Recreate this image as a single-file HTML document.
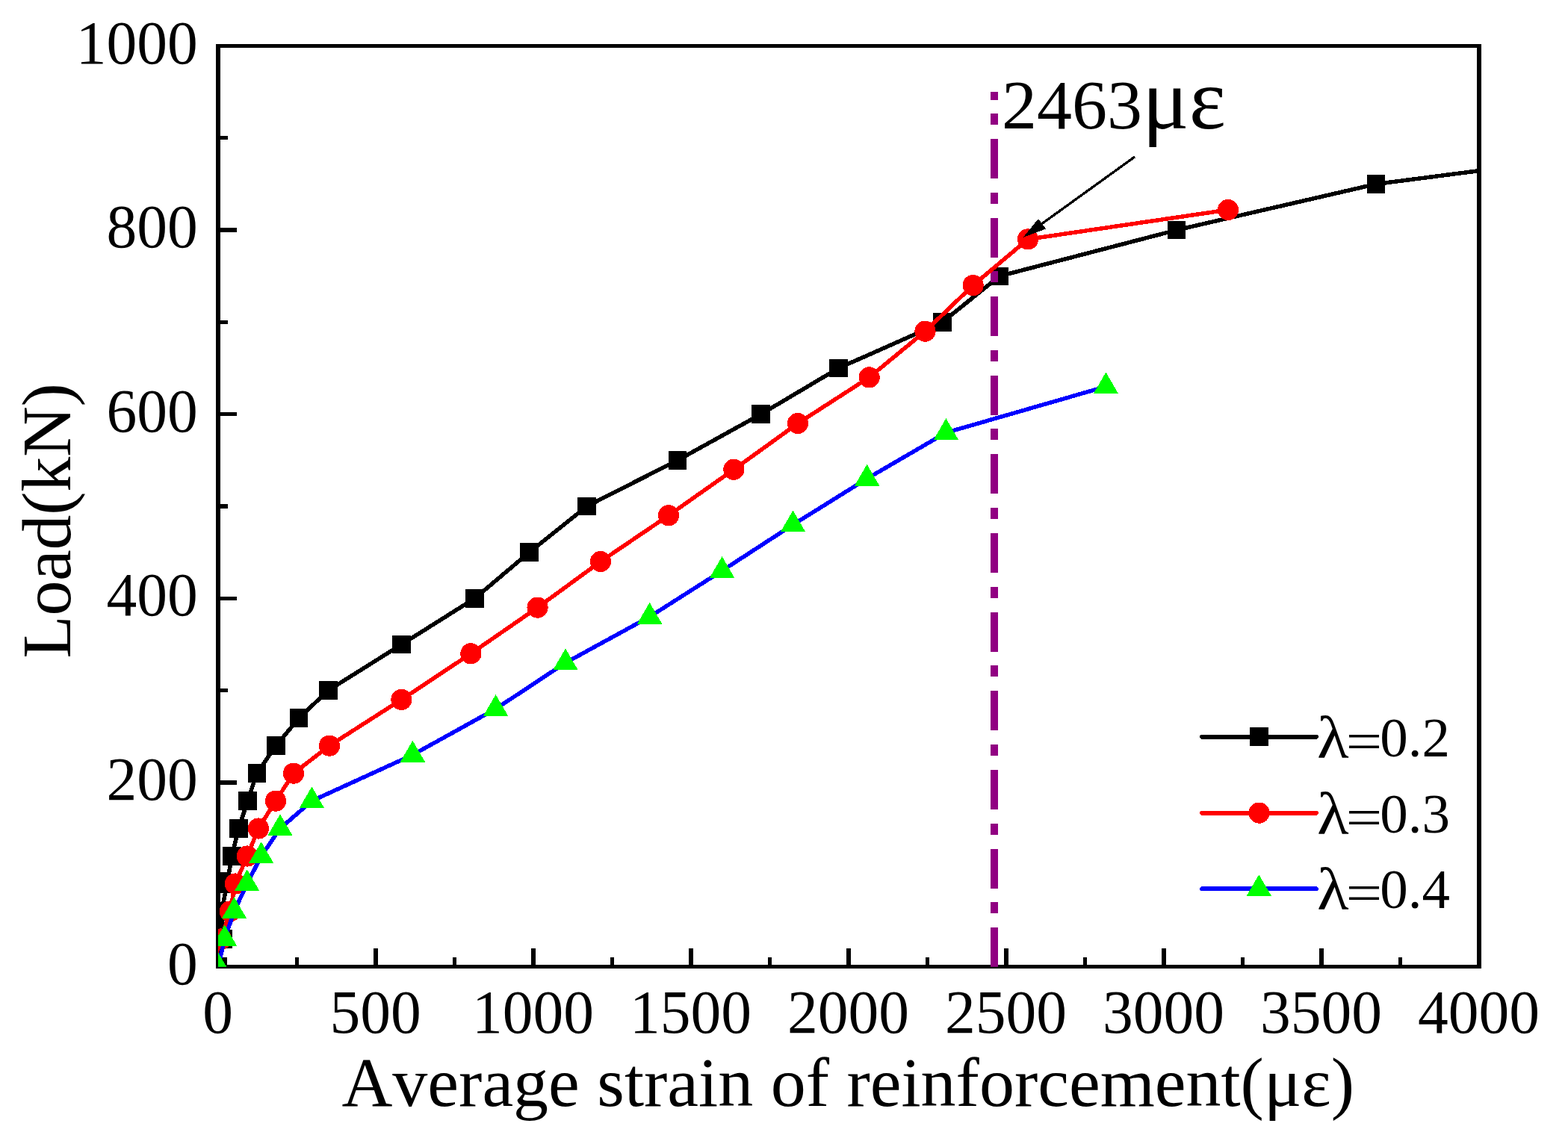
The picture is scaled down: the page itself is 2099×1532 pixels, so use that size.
<!DOCTYPE html>
<html lang="en"><head><meta charset="utf-8"><title>Load vs average strain of reinforcement</title>
<style>
html,body{margin:0;padding:0;background:#fff;}
body{width:2099px;height:1532px;overflow:hidden;}
svg{display:block;}
text{font-family:"Liberation Serif","DejaVu Serif",serif;fill:#000;font-kerning:none;font-variant-ligatures:none;font-feature-settings:"kern" 0,"liga" 0;}
.tk{font-size:81.5px;}
.ti{font-size:94px;}
.lg{font-size:75px;}
</style></head><body>
<svg width="2099" height="1532" viewBox="0 0 2099 1532">
<rect x="0" y="0" width="2099" height="1532" fill="#ffffff"/>
<defs><clipPath id="plot"><rect x="292" y="61.5" width="1688" height="1233.2"/></clipPath></defs>
<g fill="#000" shape-rendering="crispEdges">
<rect x="289" y="59" width="6" height="1238"/>
<rect x="1977" y="59" width="6" height="1238"/>
<rect x="289" y="59" width="1694" height="5"/>
<rect x="289" y="1292" width="1694" height="5"/>
<rect x="292" y="1168" width="13" height="6"/>
<rect x="292" y="1045" width="25" height="6"/>
<rect x="292" y="922" width="13" height="5"/>
<rect x="292" y="799" width="25" height="5"/>
<rect x="292" y="675" width="13" height="6"/>
<rect x="292" y="552" width="25" height="5"/>
<rect x="292" y="429" width="13" height="5"/>
<rect x="292" y="305" width="25" height="6"/>
<rect x="292" y="182" width="13" height="5"/>
<rect x="395" y="1282" width="5" height="13"/>
<rect x="500" y="1270" width="6" height="25"/>
<rect x="606" y="1282" width="5" height="13"/>
<rect x="711" y="1270" width="6" height="25"/>
<rect x="817" y="1282" width="5" height="13"/>
<rect x="922" y="1270" width="6" height="25"/>
<rect x="1028" y="1282" width="5" height="13"/>
<rect x="1133" y="1270" width="6" height="25"/>
<rect x="1239" y="1282" width="5" height="13"/>
<rect x="1344" y="1270" width="6" height="25"/>
<rect x="1450" y="1282" width="5" height="13"/>
<rect x="1555" y="1270" width="6" height="25"/>
<rect x="1661" y="1282" width="5" height="13"/>
<rect x="1766" y="1270" width="6" height="25"/>
<rect x="1872" y="1282" width="5" height="13"/>
</g>
<g clip-path="url(#plot)" shape-rendering="crispEdges">
<polyline fill="none" stroke="#000" stroke-width="5.5" stroke-linejoin="round" points="292.0,1294.5 298.6,1257.5 296.6,1220.5 304.0,1183.5 310.4,1146.5 319.4,1109.5 331.6,1072.6 343.8,1035.6 369.4,998.6 400.2,961.6 439.4,924.6 537.6,863.0 635.6,801.3 708.6,739.6 785.6,678.0 907.0,616.4 1018.6,554.7 1122.6,493.0 1261.5,431.4 1338.0,369.8 1575.0,308.1 1842.0,246.5 2319.0,184.8"/>
<g fill="#000">
<rect x="279.75" y="1282.25" width="24.5" height="24.5"/>
<rect x="286.35" y="1245.26" width="24.5" height="24.5"/>
<rect x="284.35" y="1208.27" width="24.5" height="24.5"/>
<rect x="291.75" y="1171.28" width="24.5" height="24.5"/>
<rect x="298.15" y="1134.29" width="24.5" height="24.5"/>
<rect x="307.15" y="1097.30" width="24.5" height="24.5"/>
<rect x="319.35" y="1060.31" width="24.5" height="24.5"/>
<rect x="331.55" y="1023.32" width="24.5" height="24.5"/>
<rect x="357.15" y="986.33" width="24.5" height="24.5"/>
<rect x="387.95" y="949.34" width="24.5" height="24.5"/>
<rect x="427.15" y="912.35" width="24.5" height="24.5"/>
<rect x="525.35" y="850.70" width="24.5" height="24.5"/>
<rect x="623.35" y="789.05" width="24.5" height="24.5"/>
<rect x="696.35" y="727.40" width="24.5" height="24.5"/>
<rect x="773.35" y="665.75" width="24.5" height="24.5"/>
<rect x="894.75" y="604.10" width="24.5" height="24.5"/>
<rect x="1006.35" y="542.45" width="24.5" height="24.5"/>
<rect x="1110.35" y="480.80" width="24.5" height="24.5"/>
<rect x="1249.25" y="419.15" width="24.5" height="24.5"/>
<rect x="1325.75" y="357.50" width="24.5" height="24.5"/>
<rect x="1562.75" y="295.85" width="24.5" height="24.5"/>
<rect x="1829.75" y="234.20" width="24.5" height="24.5"/>
</g>
<line x1="1331" y1="1295.1" x2="1331" y2="123.4" stroke="#910082" stroke-width="10" stroke-dasharray="53 19 15 18.6"/>
<polyline fill="none" stroke="#ff0000" stroke-width="5.5" stroke-linejoin="round" points="283.0,1294.5 296.0,1257.5 307.9,1220.5 315.0,1183.5 331.0,1146.5 346.0,1109.5 369.0,1072.6 393.0,1035.6 441.0,998.6 537.4,936.9 630.4,875.3 719.6,813.6 804.0,752.0 895.0,690.3 982.4,628.7 1068.0,567.0 1163.6,505.4 1238.5,443.7 1302.6,382.1 1376.0,320.4 1644.0,281.0"/>
<g fill="#ff0000">
<circle cx="296.0" cy="1257.5" r="14.1"/>
<circle cx="307.9" cy="1220.5" r="14.1"/>
<circle cx="315.0" cy="1183.5" r="14.1"/>
<circle cx="331.0" cy="1146.5" r="14.1"/>
<circle cx="346.0" cy="1109.5" r="14.1"/>
<circle cx="369.0" cy="1072.6" r="14.1"/>
<circle cx="393.0" cy="1035.6" r="14.1"/>
<circle cx="441.0" cy="998.6" r="14.1"/>
<circle cx="537.4" cy="936.9" r="14.1"/>
<circle cx="630.4" cy="875.3" r="14.1"/>
<circle cx="719.6" cy="813.6" r="14.1"/>
<circle cx="804.0" cy="752.0" r="14.1"/>
<circle cx="895.0" cy="690.3" r="14.1"/>
<circle cx="982.4" cy="628.7" r="14.1"/>
<circle cx="1068.0" cy="567.0" r="14.1"/>
<circle cx="1163.6" cy="505.4" r="14.1"/>
<circle cx="1238.5" cy="443.7" r="14.1"/>
<circle cx="1302.6" cy="382.1" r="14.1"/>
<circle cx="1376.0" cy="320.4" r="14.1"/>
<circle cx="1644.0" cy="281.0" r="14.1"/>
</g>
<polyline fill="none" stroke="#0000ff" stroke-width="5.5" stroke-linejoin="round" points="292.0,1294.5 300.7,1257.5 313.5,1220.5 330.7,1183.5 349.7,1146.5 375.0,1109.5 417.4,1072.6 552.4,1010.9 663.6,949.3 757.0,887.6 869.6,826.0 966.6,764.3 1061.5,702.7 1160.6,641.0 1266.4,579.4 1480.4,517.7"/>
<g fill="#00ff00">
<polygon points="292.0,1275.3 308.7,1304.1 275.3,1304.1"/>
<polygon points="300.7,1238.3 317.4,1267.1 284.0,1267.1"/>
<polygon points="313.5,1201.3 330.2,1230.1 296.8,1230.1"/>
<polygon points="330.7,1164.3 347.4,1193.1 314.0,1193.1"/>
<polygon points="349.7,1127.3 366.4,1156.1 333.0,1156.1"/>
<polygon points="375.0,1090.3 391.7,1119.1 358.3,1119.1"/>
<polygon points="417.4,1053.4 434.1,1082.2 400.7,1082.2"/>
<polygon points="552.4,991.7 569.1,1020.5 535.7,1020.5"/>
<polygon points="663.6,930.1 680.3,958.9 646.9,958.9"/>
<polygon points="757.0,868.4 773.7,897.2 740.3,897.2"/>
<polygon points="869.6,806.8 886.3,835.6 852.9,835.6"/>
<polygon points="966.6,745.1 983.3,773.9 949.9,773.9"/>
<polygon points="1061.5,683.5 1078.2,712.3 1044.8,712.3"/>
<polygon points="1160.6,621.8 1177.3,650.6 1143.9,650.6"/>
<polygon points="1266.4,560.2 1283.1,589.0 1249.7,589.0"/>
<polygon points="1480.4,498.5 1497.1,527.3 1463.7,527.3"/>
</g>
</g>
<g shape-rendering="crispEdges">
<line x1="1519" y1="210" x2="1388" y2="304.5" stroke="#000" stroke-width="3.3"/>
<polygon points="1369.5,318 1390,293 1400,306.5" fill="#000"/>
</g>
<g class="tk" text-anchor="end">
<text x="264.8" y="1317.5">0</text>
<text x="264.8" y="1070.9">200</text>
<text x="264.8" y="824.3">400</text>
<text x="264.8" y="577.7">600</text>
<text x="264.8" y="331.1">800</text>
<text x="264.8" y="84.5">1000</text>
</g>
<g class="tk" text-anchor="middle">
<text x="291.6" y="1383.1">0</text>
<text x="502.6" y="1383.1">500</text>
<text x="713.6" y="1383.1">1000</text>
<text x="924.6" y="1383.1">1500</text>
<text x="1135.6" y="1383.1">2000</text>
<text x="1346.6" y="1383.1">2500</text>
<text x="1557.6" y="1383.1">3000</text>
<text x="1768.6" y="1383.1">3500</text>
<text x="1979.6" y="1383.1">4000</text>
</g>
<text class="ti" x="1135.3" y="1481.2" text-anchor="middle">Average strain of reinforcement(με)</text>
<text class="ti" transform="translate(93.9 697.6) rotate(-90)" text-anchor="middle" style="letter-spacing:-0.3px">Load(kN)</text>
<text class="ti" x="1341" y="172">2463<tspan font-size="117">με</tspan></text>
<g shape-rendering="crispEdges">
<line x1="1609" y1="986.6" x2="1762" y2="986.6" stroke="#000" stroke-width="6" stroke-linecap="round"/>
<rect x="1673" y="974" width="25" height="25" fill="#000"/>
<line x1="1609" y1="1088.6" x2="1762" y2="1088.6" stroke="#ff0000" stroke-width="6" stroke-linecap="round"/>
<circle cx="1685.6" cy="1088.6" r="14.1" fill="#ff0000"/>
<line x1="1609" y1="1190.4" x2="1762" y2="1190.4" stroke="#0000ff" stroke-width="6" stroke-linecap="round"/>
<polygon points="1685.3,1171.3 1702,1199.9 1668.6,1199.9" fill="#00ff00"/>
</g>
<g class="lg">
<text y="1012.7"><tspan x="1762.9" dy="2" font-size="81" textLength="42.6" lengthAdjust="spacingAndGlyphs">λ</tspan><tspan x="1801.7" dy="2.6" font-size="71.6" textLength="48.5" lengthAdjust="spacingAndGlyphs">=</tspan><tspan x="1847.2" dy="-4.6">0.2</tspan></text>
<text y="1114.7"><tspan x="1762.9" dy="2" font-size="81" textLength="42.6" lengthAdjust="spacingAndGlyphs">λ</tspan><tspan x="1801.7" dy="2.6" font-size="71.6" textLength="48.5" lengthAdjust="spacingAndGlyphs">=</tspan><tspan x="1847.2" dy="-4.6">0.3</tspan></text>
<text y="1215.7"><tspan x="1762.9" dy="2" font-size="81" textLength="42.6" lengthAdjust="spacingAndGlyphs">λ</tspan><tspan x="1801.7" dy="2.6" font-size="71.6" textLength="48.5" lengthAdjust="spacingAndGlyphs">=</tspan><tspan x="1847.2" dy="-4.6">0.4</tspan></text>
</g>
</svg>
</body></html>
